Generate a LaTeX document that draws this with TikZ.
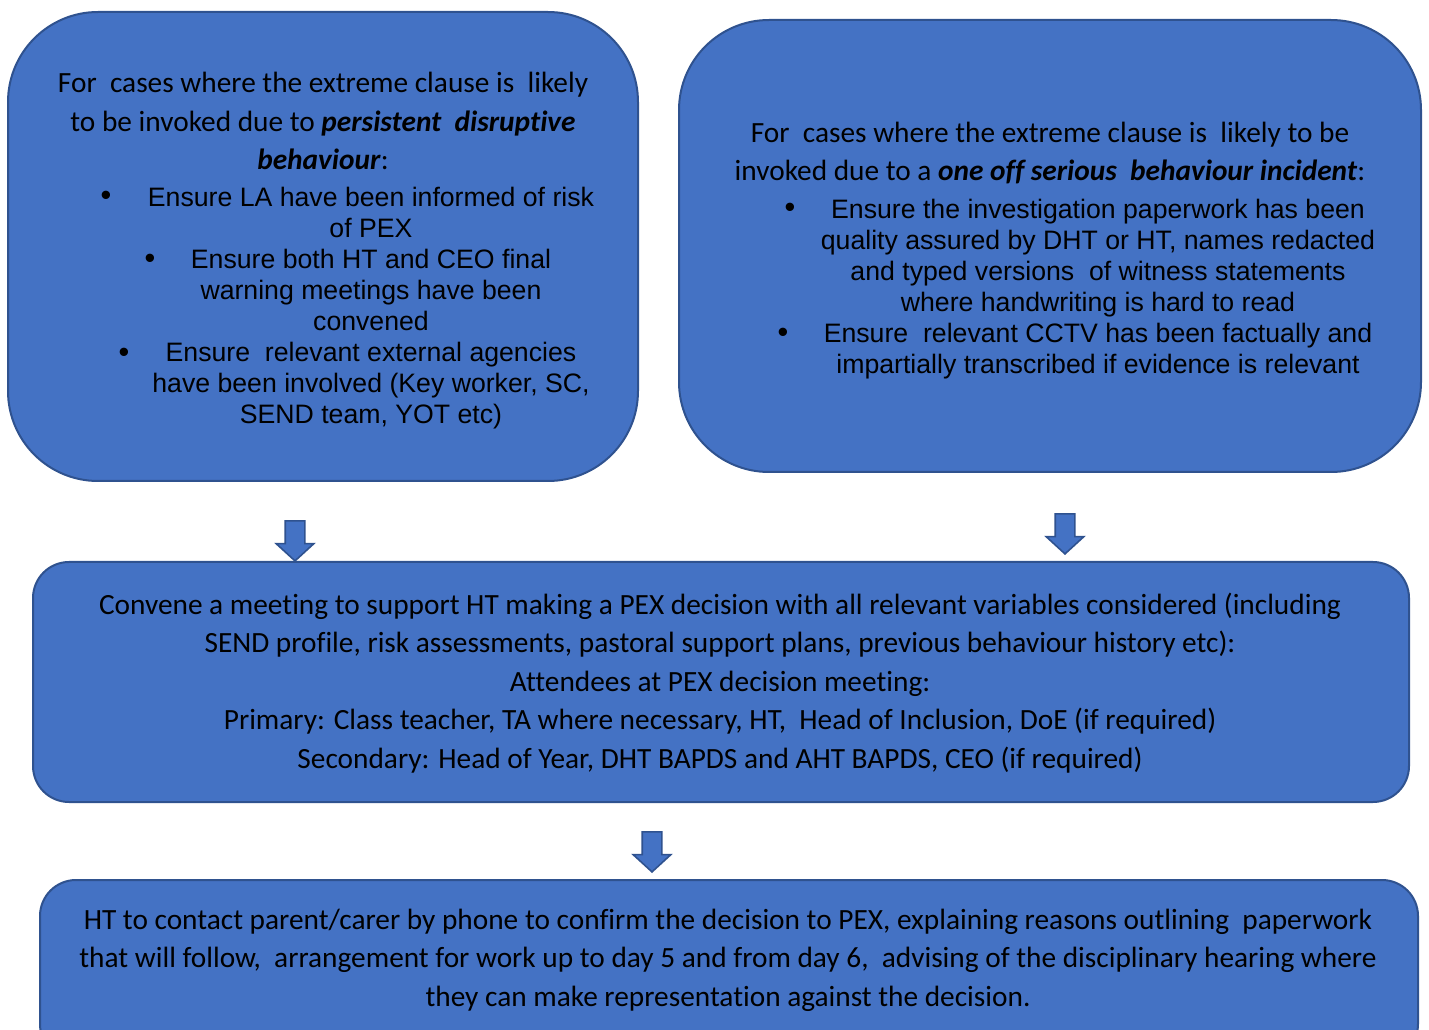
\documentclass[tikz,border=0pt]{standalone}
\usepackage{fontspec}
\setmainfont{Carlito}[Ligatures=NoCommon]
\newfontfamily\arialfont{Liberation Sans}
\usepackage{xcolor}
\usetikzlibrary{shapes.arrows}
\definecolor{boxblue}{HTML}{4472C4}
\definecolor{boxedge}{HTML}{2F528F}
\tikzset{
	box/.style={draw=boxedge, fill=boxblue, line width=1.5pt, inner sep=0pt},
	calibritext/.style={align=center, inner sep=0pt, font=\fontsize{22}{28.9}\selectfont},
	arialtext/.style={align=center, inner sep=0pt, font=\arialfont\fontsize{20}{23.25}\selectfont},
	bulletdot/.style={inner sep=0pt, font=\arialfont\fontsize{23}{23.25}\selectfont},
	downarrow/.style={single arrow, shape border rotate=270, draw=boxedge, fill=boxblue,
		line width=1.2pt, inner sep=6.75pt, minimum height=30pt, minimum width=27pt,
		single arrow head extend=6.75pt, single arrow tip angle=95}
}
\begin{document}
\begin{tikzpicture}[x=0.75pt,y=-0.75pt]
	\useasboundingbox (0,0) rectangle (1429,1030);
	% boxes
	\node[box, minimum width=472.5pt, minimum height=351.75pt, rounded corners=67.5pt] (left) at (323,246.5) {};
	\node[box, minimum width=556.5pt, minimum height=339pt, rounded corners=67.5pt] (right) at (1050,246) {};
	\node[box, minimum width=1032pt, minimum height=180pt, rounded corners=27pt] (mid) at (721,682) {};
	\node[box, minimum width=1033.5pt, minimum height=135pt, rounded corners=27pt] (bot) at (729,970) {};
	% arrows
	\node[downarrow, anchor=tip] (a1) at (295,562) {};
	\node[downarrow, anchor=tip] (a2) at (1065,555) {};
	\node[downarrow, anchor=tip] (a3) at (652,873) {};
	% left box
	\node[calibritext] (lhead) at (323,121)
	{
		For~ cases where the extreme clause is~ likely\\
		to be invoked due to \textbf{\textit{persistent~ disruptive}}\\
		\textbf{\textit{behaviour}}:
	};
	\node[bulletdot] (lb1) at (106,198) {•};
	\node[bulletdot] (lb2) at (150,261) {•};
	\node[bulletdot] (lb3) at (124,355) {•};
	\node[arialtext] (lbul) at (371,308)
	{
		Ensure LA have been informed of risk\\
		of PEX\\
		Ensure both HT and CEO final\\
		warning meetings have been\\
		convened\\
		Ensure~ relevant external agencies\\
		have been involved (Key worker, SC,\\
		SEND team, YOT etc)
	};
	% right box
	\node[calibritext] (rhead) at (1050,153)
	{
		For~ cases where the extreme clause is~ likely to be\\
		invoked due to a \textbf{\textit{one off serious~ behaviour incident}}:
	};
	\node[bulletdot] (rb1) at (790,210) {•};
	\node[bulletdot] (rb2) at (783,335) {•};
	\node[arialtext] (rbul) at (1098,289)
	{
		Ensure the investigation paperwork has been\\
		quality assured by DHT or HT, names redacted\\
		and typed versions~ of witness statements\\
		where handwriting is hard to read\\
		Ensure~ relevant CCTV has been factually and\\
		impartially transcribed if evidence is relevant
	};
	% middle box
	\node[calibritext] (midtext) at (720,683)
	{
		Convene a meeting to support HT making a PEX decision with all relevant variables considered (including\\
		SEND profile, risk assessments, pastoral support plans, previous behaviour history etc):\\
		Attendees at PEX decision meeting:\\
		Primary: Class teacher, TA where necessary, HT,~ Head of Inclusion, DoE (if required)\\
		Secondary: Head of Year, DHT BAPDS and AHT BAPDS, CEO (if required)
	};
	% bottom box
	\node[calibritext] (bottext) at (728,960)
	{
		HT to contact parent/carer by phone to confirm the decision to PEX, explaining reasons outlining~ paperwork\\
		that will follow,~ arrangement for work up to day 5 and from day 6,~ advising of the disciplinary hearing where\\
		they can make representation against the decision.
	};
\end{tikzpicture}
\end{document}
